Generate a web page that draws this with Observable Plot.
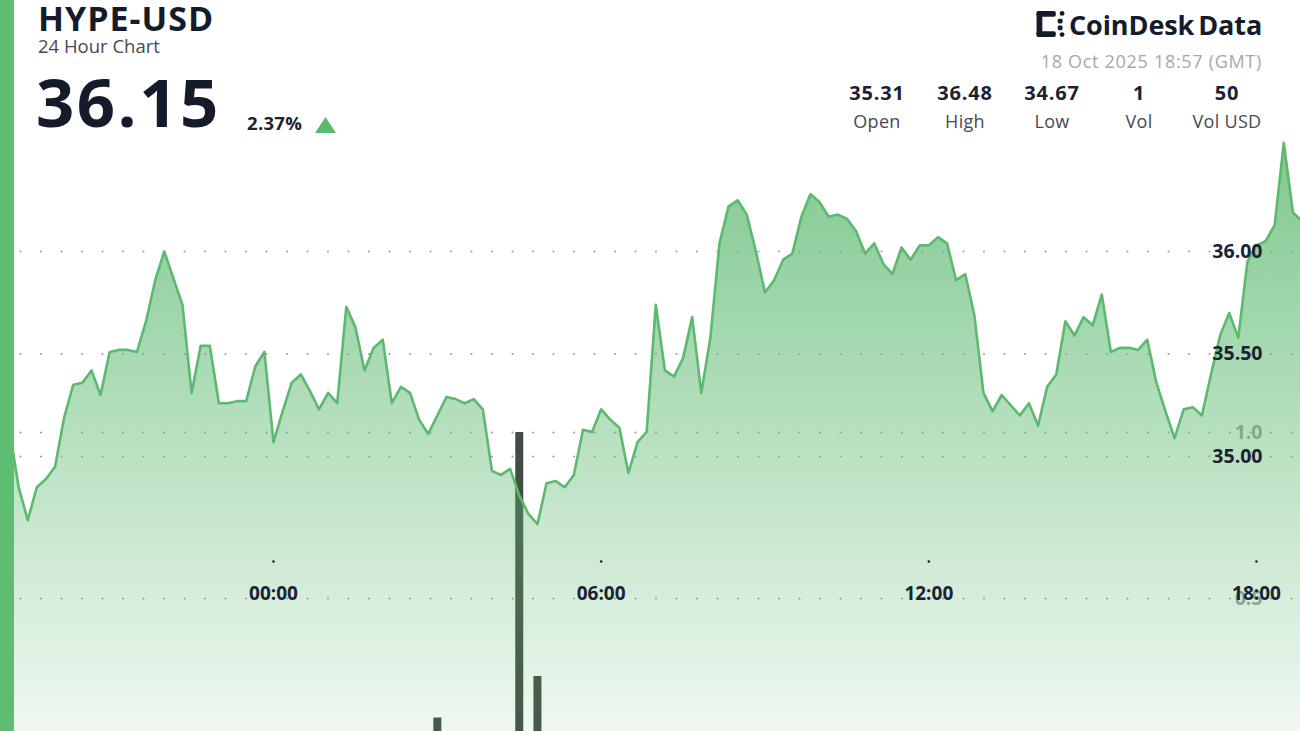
<!DOCTYPE html>
<html>
<head>
<meta charset="utf-8">
<script src="https://cdn.jsdelivr.net/npm/d3@7"></script>
<script src="https://cdn.jsdelivr.net/npm/@observablehq/plot@0.6"></script>
<style>
  html, body { margin: 0; padding: 0; background: #fff; }
  body { width: 1300px; height: 731px; overflow: hidden; position: relative; font-family: "Open Sans", "Noto Sans", sans-serif; }
  #leftbar { position: absolute; left: 0; top: 0; width: 14px; height: 731px; background: #5fbd72; z-index: 10; }
  #header { position: relative; width: 1300px; height: 140px; }
  #header div { position: absolute; white-space: nowrap; line-height: 1; }
  #chart { position: relative; width: 1300px; height: 591px; overflow: hidden; }
  #chart svg { position: absolute; left: 0; top: 0; }
  .stat { width: 110px; text-align: center; }
  .statv { font-weight: 700; font-size: 20px; color: #1b2233; top: 83px; letter-spacing: 0.8px; }
  .statl { font-size: 18px; color: #444a52; top: 112px; letter-spacing: 0.3px; }
</style>
</head>
<body>
<div id="leftbar"></div>
<div id="header">
  <div style="left:38px; top:1px; font-size:34px; font-weight:700; color:#141c2b; letter-spacing:1px;">HYPE-USD</div>
  <div style="left:38px; top:37px; font-size:18.5px; color:#444a52;">24 Hour Chart</div>
  <div style="left:36px; top:68px; font-size:67px; font-weight:700; color:#141c2b; letter-spacing:2.5px;">36.15</div>
  <div style="left:247px; top:114px; font-size:18.5px; font-weight:700; color:#1b2233; letter-spacing:0.3px;">2.37%</div>
  <div style="left:315px; top:117px; width:21px; height:16px; background:#5cb96f; clip-path: polygon(50% 0, 100% 100%, 0 100%);"></div>
  <div style="left:1036px; top:11px;">
    <svg width="30" height="26" viewBox="0 0 30 27">
      <g fill="#141c2b">
        <rect x="0" y="0" width="6" height="27" rx="2"/>
        <rect x="0" y="0" width="20" height="6" rx="2"/>
        <rect x="0" y="21" width="20" height="6" rx="2"/>
        <rect x="22" y="8" width="5" height="5" rx="1.5"/>
        <rect x="22" y="15" width="5" height="5" rx="1.5"/>
        <rect x="24" y="0" width="5" height="5" rx="2.5"/>
        <rect x="24" y="22" width="5" height="5" rx="2.5"/>
      </g>
    </svg>
  </div>
  <div style="left:1069px; top:11px; font-size:27px; font-weight:700; color:#141c2b; letter-spacing:-0.1px;">CoinDesk<span style="margin-left:4px">Data</span></div>
  <div style="right:38px; top:52px; font-size:18px; color:#a8a8a8; letter-spacing:0.7px;">18 Oct 2025 18:57 (GMT)</div>
</div>
<div id="chart"></div>
<script>
// ---- data ----
const startTime = "2025-10-17T19:00:00Z";   // first 10-minute sample
const stepMinutes = 10;
const prices = [
  35.10, 35.13, 34.85, 34.69, 34.85, 34.89,
  34.95, 35.19, 35.35, 35.36, 35.42, 35.30,
  35.51, 35.52, 35.52, 35.51, 35.66, 35.86,
  36.00, 35.87, 35.74, 35.31, 35.54, 35.54,
  35.26, 35.26, 35.27, 35.27, 35.44, 35.51,
  35.07, 35.22, 35.36, 35.40, 35.32, 35.23,
  35.31, 35.26, 35.73, 35.63, 35.42, 35.53,
  35.57, 35.26, 35.34, 35.31, 35.18, 35.11,
  35.20, 35.29, 35.28, 35.26, 35.28, 35.23,
  34.93, 34.91, 34.94, 34.81, 34.72, 34.67,
  34.87, 34.88, 34.85, 34.91, 35.13, 35.12,
  35.23, 35.18, 35.14, 34.92, 35.07, 35.12,
  35.74, 35.42, 35.39, 35.48, 35.68, 35.31,
  35.58, 36.04, 36.22, 36.25, 36.18, 36.00,
  35.80, 35.86, 35.96, 35.99, 36.17, 36.28,
  36.24, 36.17, 36.18, 36.16, 36.10, 35.99,
  36.04, 35.94, 35.89, 36.02, 35.96, 36.03,
  36.03, 36.07, 36.04, 35.86, 35.89, 35.69,
  35.31, 35.22, 35.30, 35.25, 35.20, 35.26,
  35.15, 35.34, 35.40, 35.66, 35.59, 35.68,
  35.64, 35.79, 35.51, 35.53, 35.53, 35.52,
  35.57, 35.36, 35.22, 35.09, 35.23, 35.24,
  35.20, 35.40, 35.59, 35.70, 35.58, 35.95,
  36.03, 36.05, 36.13, 36.53, 36.19, 36.15
];
const volTimes = ["2025-10-18T03:00:00Z", "2025-10-18T04:30:00Z", "2025-10-18T04:50:00Z"];
const volValues = [0.14, 1.0, 0.265];

const priceTicks = [35.0, 35.5, 36.0];
const priceTickLabels = ["35.00", "35.50", "36.00"];
const volTicks = [0.5, 1.0];
const volTickLabels = ["0.5", "1.0"];
const timeTicks = ["2025-10-18T00:00:00Z", "2025-10-18T06:00:00Z", "2025-10-18T12:00:00Z", "2025-10-18T18:00:00Z"];
const timeTickLabels = ["00:00", "06:00", "12:00", "18:00"];

const statLabels = ["Open", "High", "Low", "Vol", "Vol USD"];
const statValues = ["35.31", "36.48", "34.67", "1", "50"];

// ---- header stats ----
const statCenters = [877, 965, 1052, 1139, 1227];
const header = document.getElementById("header");
statLabels.forEach((l, i) => {
  const v = document.createElement("div");
  v.className = "stat statv"; v.style.left = (statCenters[i] - 55) + "px"; v.textContent = statValues[i];
  const t = document.createElement("div");
  t.className = "stat statl"; t.style.left = (statCenters[i] - 55) + "px"; t.textContent = l;
  header.append(v, t);
});

// ---- tables ----
const t0 = new Date(startTime).getTime();
const series = prices.map((p, i) => ({time: new Date(t0 + i * stepMinutes * 60000), price: p}));
const vols = volTimes.map((t, i) => ({time: new Date(t), vol: volValues[i]}));
const tTicks = timeTicks.map(t => new Date(t));

const W = 1300, H = 591;
const xScale = {type: "utc", domain: [new Date("2025-10-18T00:00:00Z"), new Date("2025-10-18T18:00:00Z")], range: [273, 1256], axis: null};
const font = {fontFamily: "'Open Sans', 'Noto Sans', sans-serif"};
const dotted = {stroke: "#9a9a9a", strokeWidth: 2, strokeDasharray: "0,20.5", strokeLinecap: "round"};

// volume layer (underneath)
const volPlot = Plot.plot({
  width: W, height: H, margin: 0,
  style: {background: "#fff", ...font},
  x: xScale,
  y: {domain: [0, 1], range: [624, 292], axis: null},
  marks: [
    Plot.ruleY(volTicks, dotted),
    Plot.ruleX(vols, {x: "time", y1: 0, y2: "vol", stroke: "#434d44", strokeWidth: 8}),
    Plot.text(volTicks, {y: d => d, text: volTickLabels, frameAnchor: "right", textAnchor: "end", lineAnchor: "middle", dx: -38, fontSize: 19.5, fontWeight: 700, fill: "#9aa09a"})
  ]
});

// price layer (on top)
const pricePlot = Plot.plot({
  width: W, height: H, margin: 0,
  style: {background: "transparent", ...font},
  x: xScale,
  y: {domain: [35, 36], range: [316, 111], axis: null},
  marks: [
    Plot.areaY(series, {x: "time", y: "price", fill: "url(#hypeGrad)"}),
    Plot.lineY(series, {x: "time", y: "price", stroke: "#5cb96f", strokeWidth: 2.6, strokeLinejoin: "round"}),
    Plot.ruleY(priceTicks, dotted),
    Plot.dot(tTicks, {x: d => d, frameAnchor: "bottom", dy: -170, r: 1.3, fill: "#222", stroke: null}),
    Plot.text(priceTicks, {y: d => d, text: priceTickLabels, frameAnchor: "right", textAnchor: "end", lineAnchor: "middle", dx: -38, fontSize: 19.5, fontWeight: 700, fill: "#1b2233"}),
    Plot.text(tTicks, {x: d => d, text: timeTickLabels, frameAnchor: "bottom", lineAnchor: "middle", dy: -138, fontSize: 19, fontWeight: 700, fill: "#1b2233"})
  ]
});
const ns = "http://www.w3.org/2000/svg";
const defs = document.createElementNS(ns, "defs");
defs.innerHTML = `<linearGradient id="hypeGrad" gradientUnits="userSpaceOnUse" x1="0" y1="0" x2="0" y2="${H}">
  <stop offset="0" stop-color="#5cb96f" stop-opacity="0.78"/>
  <stop offset="1" stop-color="#5cb96f" stop-opacity="0.1"/>
</linearGradient>`;
pricePlot.insertBefore(defs, pricePlot.firstChild);

const chart = document.getElementById("chart");
chart.append(volPlot, pricePlot);
</script>
</body>
</html>
